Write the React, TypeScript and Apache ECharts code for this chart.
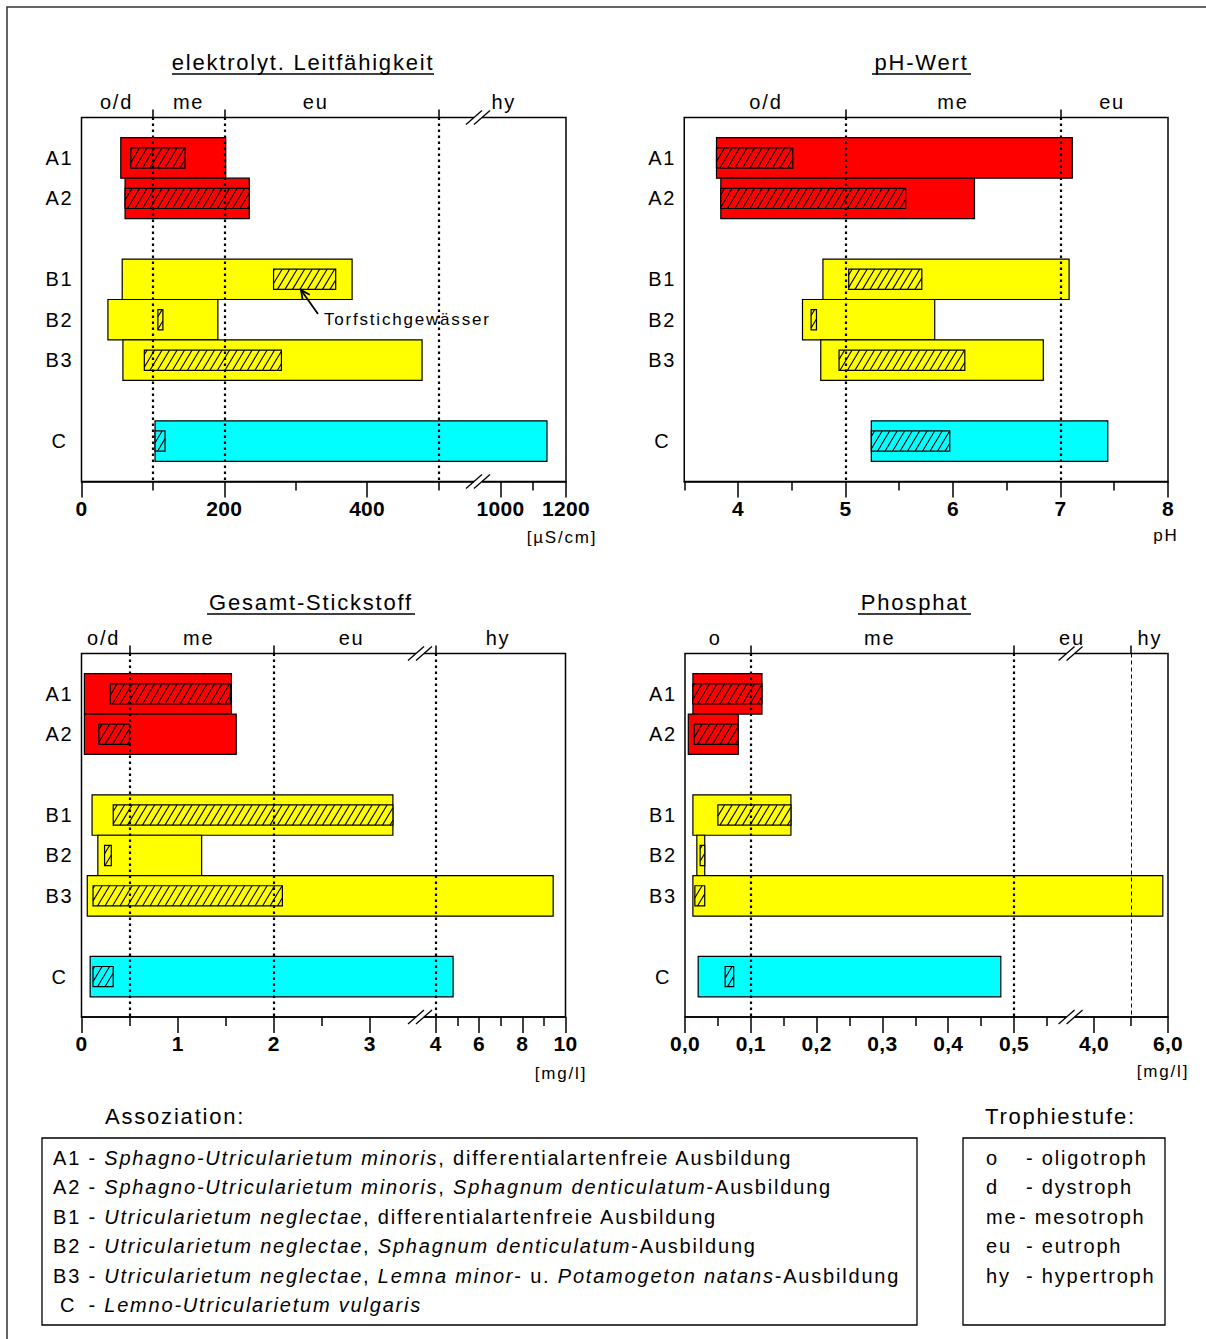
import React, { useEffect, useRef } from "react";
import * as echarts from "echarts";

const FONT = "'Liberation Sans', Arial, Helvetica, sans-serif";
const LS = 1.8; // letter spacing used for regular texts (see CSS)

// ---------- data ----------
const ROWS = ["A1", "A2", "B1", "B2", "B3", "C"];
const ROW_POS = [1, 2, 4, 5, 6, 8];
const ROW_COLORS = ["#ff0000", "#ff0000", "#ffff00", "#ffff00", "#ffff00", "#00ffff"];

// elektrolyt. Leitfähigkeit [µS/cm]
const LF_LO = [55, 61, 57, 37, 58, 103];
const LF_HI = [202, 235, 379, 191, 477, 1142];
const LF_IN_LO = [69, 61, 269, 107, 88, 103];
const LF_IN_HI = [145, 235, 356, 114, 280, 117];
const LF_MAJOR = [0, 200, 400, 1000, 1200];
const LF_MINOR = [100, 300, 500, 1100];
const LF_GUIDES = [100, 200, 500];
const LF_ZONES = ["o/d", "me", "eu", "hy"];
const LF_ZONE_AT = [49, 150, 328, 1010];

// pH-Wert
const PH_LO = [3.8, 3.84, 4.79, 4.6, 4.77, 5.24];
const PH_HI = [7.11, 6.2, 7.08, 5.83, 6.84, 7.44];
const PH_IN_LO = [3.8, 3.84, 5.03, 4.68, 4.94, 5.24];
const PH_IN_HI = [4.51, 5.56, 5.71, 4.73, 6.11, 5.97];
const PH_MAJOR = [4, 5, 6, 7, 8];
const PH_MINOR = [3.5, 4.5, 5.5, 6.5, 7.5];
const PH_GUIDES = [5, 7];
const PH_ZONES = ["o/d", "me", "eu"];
const PH_ZONE_AT = [4.26, 6.0, 7.48];

// Gesamt-Stickstoff [mg/l]
const N_LO = [0.03, 0.03, 0.11, 0.17, 0.06, 0.09];
const N_HI = [1.56, 1.61, 3.24, 1.25, 9.43, 4.8];
const N_IN_LO = [0.3, 0.18, 0.33, 0.24, 0.12, 0.12];
const N_IN_HI = [1.55, 0.5, 3.24, 0.31, 2.09, 0.33];
const N_MAJOR = [0, 1, 2, 3, 4, 6, 8, 10];
const N_MINOR = [0.5, 1.5, 2.5, 5, 7, 9];
const N_GUIDES = [0.5, 2, 4];
const N_ZONES = ["o/d", "me", "eu", "hy"];
const N_ZONE_AT = [0.23, 1.22, 2.81, 6.88];

// Phosphat [mg/l]
const P_LO = [0.012, 0.005, 0.012, 0.018, 0.012, 0.02];
const P_HI = [0.117, 0.081, 0.161, 0.03, 5.86, 0.48];
const P_IN_LO = [0.012, 0.014, 0.05, 0.023, 0.015, 0.061];
const P_IN_HI = [0.117, 0.081, 0.161, 0.03, 0.03, 0.074];
const P_MAJOR = [0, 0.1, 0.2, 0.3, 0.4, 0.5, 4, 6];
const P_MINOR = [0.05, 0.15, 0.25, 0.35, 0.45, 0.55, 5];
const P_GUIDES = [0.1, 0.5, 5];
const P_ZONES = ["o", "me", "eu", "hy"];
const P_ZONE_AT = [0.046, 0.296, 2.39, 5.51];

const TITLES = ["elektrolyt. Leitfähigkeit", "pH-Wert", "Gesamt-Stickstoff", "Phosphat"];
const UNITS = ["[µS/cm]", "pH", "[mg/l]", "[mg/l]"];

const ASSOC_TEXT: [string, boolean][][] = [
  [["- ", false], ["Sphagno-Utricularietum minoris", true], [", differentialartenfreie Ausbildung", false]],
  [["- ", false], ["Sphagno-Utricularietum minoris", true], [", ", false], ["Sphagnum denticulatum", true], ["-Ausbildung", false]],
  [["- ", false], ["Utricularietum neglectae", true], [", differentialartenfreie Ausbildung", false]],
  [["- ", false], ["Utricularietum neglectae", true], [", ", false], ["Sphagnum denticulatum", true], ["-Ausbildung", false]],
  [["- ", false], ["Utricularietum neglectae", true], [", ", false], ["Lemna minor", true], ["- u. ", false], ["Potamogeton natans", true], ["-Ausbildung", false]],
  [["- ", false], ["Lemno-Utricularietum vulgaris", true]],
];
const TROPHIE_CODES = ["o", "d", "me", "eu", "hy"];
const TROPHIE_NAMES = ["oligotroph", "dystroph", "mesotroph", "eutroph", "hypertroph"];

// ---------- layout / scales ----------
type Panel = {
  left: number; top: number; width: number; height: number;
  knots: number[][]; breakPx: number | null;
  lo: number[]; hi: number[]; inLo: number[]; inHi: number[];
  major: number[]; minor: number[]; guides: number[]; zones: string[]; zoneAt: number[];
  fmt: (v: number) => string; guideThin?: number[];
  title: string; titleX: number; titleY: number; titleW: number;
  unit: string; unitX: number; unitY: number;
};

const PANELS: Panel[] = [
  {
    left: 81.5, top: 117.5, width: 484.5, height: 364,
    knots: [[0, 0], [550, 392.7], [950, 402.6], [1200, 484.5]], breakPx: 396.5,
    lo: LF_LO, hi: LF_HI, inLo: LF_IN_LO, inHi: LF_IN_HI,
    major: LF_MAJOR, minor: LF_MINOR, guides: LF_GUIDES, zones: LF_ZONES, zoneAt: LF_ZONE_AT,
    fmt: (v) => String(v),
    title: TITLES[0], titleX: 303, titleY: 62, titleW: 262,
    unit: UNITS[0], unitX: 562, unitY: 537,
  },
  {
    left: 684.25, top: 117.5, width: 483.75, height: 364,
    knots: [[3.5, 0], [8, 483.75]], breakPx: null,
    lo: PH_LO, hi: PH_HI, inLo: PH_IN_LO, inHi: PH_IN_HI,
    major: PH_MAJOR, minor: PH_MINOR, guides: PH_GUIDES, zones: PH_ZONES, zoneAt: PH_ZONE_AT,
    fmt: (v) => String(v),
    title: TITLES[1], titleX: 921.5, titleY: 62, titleW: 99,
    unit: UNITS[1], unitX: 1166, unitY: 535,
  },
  {
    left: 81.5, top: 653.5, width: 484, height: 363.5,
    knots: [[0, 0], [3.5, 336.4], [4, 354.3], [10, 484]], breakPx: 338.5,
    lo: N_LO, hi: N_HI, inLo: N_IN_LO, inHi: N_IN_HI,
    major: N_MAJOR, minor: N_MINOR, guides: N_GUIDES, zones: N_ZONES, zoneAt: N_ZONE_AT,
    fmt: (v) => String(v),
    title: TITLES[2], titleX: 311, titleY: 602, titleW: 208,
    unit: UNITS[2], unitX: 561, unitY: 1073,
  },
  {
    left: 685, top: 653.5, width: 483, height: 363.5,
    knots: [[0, 0], [0.55, 361.9], [4, 409], [6, 483]], breakPx: 385.6,
    lo: P_LO, hi: P_HI, inLo: P_IN_LO, inHi: P_IN_HI,
    major: P_MAJOR, minor: P_MINOR, guides: P_GUIDES, zones: P_ZONES, zoneAt: P_ZONE_AT,
    fmt: (v) => v.toFixed(1).replace(".", ","), guideThin: [5],
    title: TITLES[3], titleX: 914.5, titleY: 602, titleW: 113,
    unit: UNITS[3], unitX: 1163, unitY: 1071,
  },
];

const makeScale = (knots: number[][]) => (v: number) => {
  for (let i = 0; i < knots.length - 1; i++) {
    const [a, pa] = knots[i];
    const [b, pb] = knots[i + 1];
    if (v <= b || i === knots.length - 2) return pa + ((v - a) * (pb - pa)) / (b - a);
  }
  return 0;
};

function hatch(x0: number, y0: number, x1: number, y1: number) {
  const s = 7.5, r = 0.6;
  const h = y1 - y0;
  const out: any[] = [];
  const start = Math.floor((x0 - h * r) / s) * s;
  for (let c = start; c <= x1; c += s) {
    let xa = c, ya = y1, xb = c + h * r, yb = y0;
    if (xb < x0 || xa > x1) continue;
    if (xa < x0) { ya = y1 - (x0 - c) / r; xa = x0; }
    if (xb > x1) { yb = y1 - (x1 - c) / r; xb = x1; }
    if (Math.hypot(xb - xa, yb - ya) < 0.5) continue;
    out.push({ type: "line", shape: { x1: xa, y1: ya, x2: xb, y2: yb }, style: { stroke: "#000", lineWidth: 1.1 } });
  }
  return out;
}

const barRenderer = (hatched: boolean) => (params: any, api: any) => {
  const lo = api.value(0), hi = api.value(1), row = api.value(2), ci = api.value(3);
  const p0 = api.coord([lo, row]);
  const p1 = api.coord([hi, row]);
  const h = api.size([0, 1])[1] * (hatched ? 0.5 : 1);
  const x0 = Math.min(p0[0], p1[0]), x1 = Math.max(p0[0], p1[0]);
  const y0 = p0[1] - h / 2, y1 = p0[1] + h / 2;
  const fill = ROW_COLORS[ci];
  const shape = { x: x0, y: y0, width: x1 - x0, height: h };
  if (!hatched) {
    return { type: "rect", shape, style: { fill, stroke: "#000", lineWidth: 1.2 } };
  }
  return {
    type: "group",
    children: [
      { type: "rect", shape, style: { fill, stroke: null } },
      ...hatch(x0, y0, x1, y1),
      { type: "rect", shape, style: { fill: null, stroke: "#000", lineWidth: 1.2 } },
    ],
  };
};

const breakRenderer = (params: any, api: any) => {
  const x = api.coord([api.value(0), 0])[0];
  const cs = params.coordSys;
  const children: any[] = [];
  [cs.y, cs.y + cs.height].forEach((y: number) => {
    children.push({ type: "rect", shape: { x: x - 4, y: y - 2, width: 8, height: 4 }, style: { fill: "#fff" } });
    [-4, 4].forEach((o) => {
      children.push({
        type: "line",
        shape: { x1: x + o - 8, y1: y + 7, x2: x + o + 8, y2: y - 7 },
        style: { stroke: "#000", lineWidth: 1.3 },
      });
    });
  });
  return { type: "group", children };
};

function txt(text: string, x: number, y: number, size: number, opts: any = {}) {
  return {
    type: "text",
    x, y, z: 100,
    silent: true,
    style: {
      text,
      fontSize: size,
      fontFamily: FONT,
      fontStyle: opts.italic ? "italic" : "normal",
      fontWeight: opts.bold ? "bold" : "normal",
      fill: "#000",
      align: opts.align || "left",
      verticalAlign: "middle",
      textAlign: opts.align || "left",
      textVerticalAlign: "middle",
    },
  };
}

let _ctx: CanvasRenderingContext2D | null = null;
function measure(t: string, italic: boolean, size: number) {
  if (!_ctx) _ctx = document.createElement("canvas").getContext("2d");
  if (!_ctx) return t.length * size * 0.5;
  _ctx.font = `${italic ? "italic " : ""}${size}px "Liberation Sans"`;
  return _ctx.measureText(t).width + t.length * LS;
}

function buildOption() {
  const grid: any[] = [], xAxis: any[] = [], yAxis: any[] = [], series: any[] = [];
  const graphic: any[] = [];

  PANELS.forEach((p, i) => {
    const f = makeScale(p.knots);
    const W = p.width;
    grid.push({
      left: p.left, top: p.top, width: p.width, height: p.height,
      show: true, borderColor: "#000", borderWidth: 1.5, backgroundColor: "transparent",
    });
    const majorPos = p.major.map(f);
    const zonePos = p.zoneAt.map(f);
    const axisMax = W + 0.01;
    xAxis.push({
      gridIndex: i, type: "value", min: 0, max: axisMax, position: "bottom",
      axisLine: { show: true, onZero: false, lineStyle: { color: "#000", width: 1.5 } },
      axisTick: { show: true, customValues: majorPos, length: 16, lineStyle: { color: "#000", width: 1.5 } },
      axisLabel: {
        show: true, customValues: majorPos, showMinLabel: true, showMaxLabel: true, hideOverlap: false,
        formatter: (v: number) => {
          const k = majorPos.findIndex((m) => Math.abs(m - v) < 0.01);
          return k >= 0 ? p.fmt(p.major[k]) : "";
        },
        color: "#000", fontFamily: FONT, fontWeight: "bold", fontSize: 21, margin: 16,
      },
      splitLine: { show: false },
    });
    xAxis.push({
      gridIndex: i, type: "value", min: 0, max: axisMax, position: "bottom",
      axisLine: { show: false, onZero: false },
      axisTick: { show: true, customValues: p.minor.map(f), length: 9, lineStyle: { color: "#000", width: 1.5 } },
      axisLabel: { show: false },
      splitLine: { show: false },
    });
    xAxis.push({
      gridIndex: i, type: "value", min: 0, max: axisMax, position: "top",
      axisLine: { show: false, onZero: false },
      axisTick: { show: true, customValues: p.guides.map(f), length: 8, lineStyle: { color: "#000", width: 1.5 } },
      axisLabel: {
        show: true, customValues: zonePos, showMinLabel: true, showMaxLabel: true, hideOverlap: false,
        formatter: (v: number) => {
          const k = zonePos.findIndex((m) => Math.abs(m - v) < 0.01);
          return k >= 0 ? p.zones[k] : "";
        },
        color: "#000", fontFamily: FONT, fontSize: 20, margin: 6,
      },
      splitLine: { show: false },
    });
    yAxis.push({
      gridIndex: i, type: "value", min: 0, max: 9, inverse: true,
      axisLine: { show: false }, axisTick: { show: false }, splitLine: { show: false },
      axisLabel: {
        show: true, customValues: ROW_POS, showMinLabel: true, showMaxLabel: true,
        formatter: (v: number) => ROWS[ROW_POS.indexOf(Math.round(v))] || "",
        color: "#000", fontFamily: FONT, fontSize: 20, margin: 22, align: "center",
      },
    });
    const xi = i * 3;
    series.push({
      type: "custom", xAxisIndex: xi, yAxisIndex: i, z: 1, silent: true,
      data: [[0, 0]], renderItem: () => null,
      markLine: {
        silent: true, symbol: ["none", "none"], label: { show: false }, animation: false,
        data: p.guides.map((g) => {
          const thin = (p.guideThin || []).indexOf(g) >= 0;
          return {
            xAxis: f(g),
            lineStyle: thin
              ? { color: "#000", width: 1, type: [4, 3] }
              : { color: "#000", width: 2.2, type: [2.5, 3.5] },
          };
        }),
      },
    });
    series.push({
      type: "custom", xAxisIndex: xi, yAxisIndex: i, z: 2, silent: true,
      encode: { x: [0, 1], y: 2 },
      data: ROWS.map((_, k) => [f(p.lo[k]), f(p.hi[k]), ROW_POS[k], k]),
      renderItem: barRenderer(false),
    });
    series.push({
      type: "custom", xAxisIndex: xi, yAxisIndex: i, z: 3, silent: true,
      encode: { x: [0, 1], y: 2 },
      data: ROWS.map((_, k) => [f(p.inLo[k]), f(p.inHi[k]), ROW_POS[k], k]),
      renderItem: barRenderer(true),
    });
    if (p.breakPx !== null) {
      series.push({
        type: "custom", xAxisIndex: xi, yAxisIndex: i, z: 5, silent: true,
        encode: { x: 0 },
        data: [[p.breakPx]],
        renderItem: breakRenderer,
      });
    }

    // title, underline, unit
    graphic.push(txt(p.title, p.titleX, p.titleY, 22, { align: "center" }));
    graphic.push({
      type: "line", silent: true, z: 100,
      shape: { x1: p.titleX - p.titleW / 2, y1: p.titleY + 12, x2: p.titleX + p.titleW / 2, y2: p.titleY + 12 },
      style: { stroke: "#000", lineWidth: 1.5 },
    });
    graphic.push(txt(p.unit, p.unitX, p.unitY, 17, { align: "center" }));
  });

  // outer frame (top and left edges visible)
  graphic.push({ type: "polyline", silent: true, z: 100, shape: { points: [[7, 1339], [7, 7], [1206, 7]] }, style: { stroke: "#333", lineWidth: 1.5, fill: null } });

  // annotation Torfstichgewässer
  const tip = [301, 290], tail = [318, 314];
  const dx = tail[0] - tip[0], dy = tail[1] - tip[1];
  const L = Math.hypot(dx, dy), ux = dx / L, uy = dy / L;
  const rot = (a: number) => [tip[0] + 10 * (ux * Math.cos(a) - uy * Math.sin(a)), tip[1] + 10 * (ux * Math.sin(a) + uy * Math.cos(a))];
  graphic.push({ type: "line", silent: true, z: 100, shape: { x1: tip[0], y1: tip[1], x2: tail[0], y2: tail[1] }, style: { stroke: "#000", lineWidth: 1.8 } });
  graphic.push({ type: "polyline", silent: true, z: 100, shape: { points: [rot(0.45), tip, rot(-0.45)] }, style: { stroke: "#000", lineWidth: 1.8, fill: null } });
  graphic.push(txt("Torfstichgewässer", 324, 319, 17));

  // legend: Assoziation
  graphic.push(txt("Assoziation:", 105, 1116, 22));
  graphic.push({ type: "rect", silent: true, z: 100, shape: { x: 42, y: 1138, width: 875, height: 187 }, style: { fill: null, stroke: "#000", lineWidth: 1.3 } });
  const dashX = 53 + measure("A1 ", false, 20);
  ASSOC_TEXT.forEach((segs, r) => {
    const y = 1158 + r * 29.4;
    const code = ROWS[r];
    graphic.push(txt(code, code === "C" ? 60 : 53, y, 20));
    let x = dashX;
    segs.forEach(([t, it]) => {
      const lead = t.length - t.replace(/^\s+/, "").length;
      const shown = t.trim();
      const xs = x + (lead ? measure(t.slice(0, lead), it, 20) : 0);
      if (shown) graphic.push(txt(shown, xs, y, 20, { italic: it }));
      x += measure(t, it, 20);
    });
  });

  // legend: Trophiestufe
  graphic.push(txt("Trophiestufe:", 985, 1116, 22));
  graphic.push({ type: "rect", silent: true, z: 100, shape: { x: 963, y: 1138, width: 202, height: 187 }, style: { fill: null, stroke: "#000", lineWidth: 1.3 } });
  TROPHIE_CODES.forEach((c, r) => {
    const y = 1158 + r * 29.4;
    graphic.push(txt(c, 986, y, 20));
    graphic.push(txt("- " + TROPHIE_NAMES[r], c === "me" ? 1019 : 1026, y, 20));
  });

  return {
    animation: false,
    backgroundColor: "#fff",
    textStyle: { fontFamily: FONT },
    grid, xAxis, yAxis, series, graphic,
  };
}

const CSS = `
.lsroot text { letter-spacing: ${LS}px; }
.lsroot text[style*="22px"] { letter-spacing: 1.8px; }
.lsroot text[style*="bold"], .lsroot text[font-weight="bold"] { letter-spacing: 0.3px; }
`;

export default function App() {
  const ref = useRef<HTMLDivElement>(null);
  useEffect(() => {
    if (!ref.current) return;
    const chart = echarts.init(ref.current, null, { renderer: "svg" });
    chart.setOption(buildOption() as any);
    return () => chart.dispose();
  }, []);
  return (
    <>
      <style>{CSS}</style>
      <div
        ref={ref}
        className="lsroot"
        style={{ position: "fixed", left: 0, top: 0, width: 1206, height: 1339, background: "#fff" }}
      />
    </>
  );
}
